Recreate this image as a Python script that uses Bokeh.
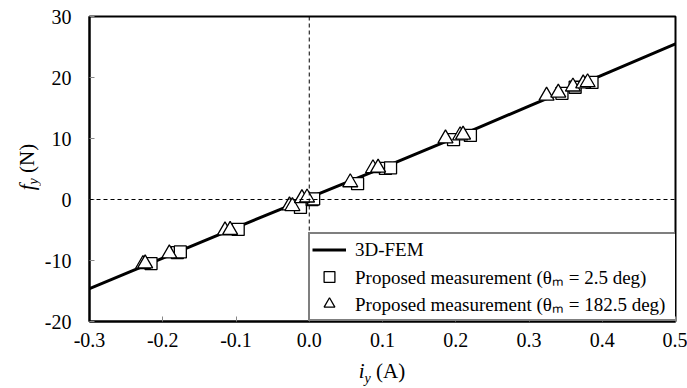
from bokeh.plotting import figure
from bokeh.models import (Span, Legend, LegendItem, FixedTicker,
                          PrintfTickFormatter, Range1d, Div)
from bokeh.layouts import row, column
from bokeh.embed import file_html
from bokeh.resources import INLINE

# ---------------- data ----------------
x_fem = [-0.3, -0.2, -0.1, 0.0, 0.1, 0.2, 0.3, 0.4, 0.5]
y_fem = [-14.6, -9.6, -4.6, 0.3, 5.2, 10.2, 15.3, 20.4, 25.5]

x_sq = [-0.216, -0.180, -0.176, -0.097, -0.012, 0.004, 0.006, 0.066, 0.104,
        0.111, 0.197, 0.220, 0.345, 0.363, 0.386]
y_sq = [-10.5, -8.7, -8.6, -4.9, -1.3, 0.0, 0.1, 2.6, 5.1,
        5.2, 9.8, 10.5, 17.4, 18.4, 19.2]

x_tr = [-0.227, -0.224, -0.191, -0.115, -0.108, -0.027, -0.023, -0.010,
        -0.003, 0.056, 0.087, 0.094, 0.186, 0.206, 0.210, 0.324, 0.340,
        0.360, 0.374, 0.380]
y_tr = [-10.6, -10.5, -8.85, -5.1, -5.0, -1.0, -1.1, 0.2,
        0.3, 2.8, 5.1, 5.2, 10.0, 10.5, 10.6, 17.0, 17.5,
        18.5, 19.0, 19.2]

x_ticks = [-0.3, -0.2, -0.1, 0.0, 0.1, 0.2, 0.3, 0.4, 0.5]
y_ticks = [-20, -10, 0, 10, 20, 30]

label_fem = "3D-FEM"
label_sq = "Proposed measurement (θₘ = 2.5 deg)"
label_tr = "Proposed measurement (θₘ = 182.5 deg)"

FONT = "Liberation Serif"

# ---------------- layout ----------------
X0, X1, Y0, Y1 = -0.3, 0.5, -20, 30
W, H = 687, 386
FL, FT, FW, FH = 89, 16, 586, 305   # frame left/top/width/height in page px
YW = 40                             # width of the y-title column
PH = 359                            # figure height (x-title below it)

p = figure(width=W - YW, height=PH, frame_width=FW, frame_height=FH,
           x_range=Range1d(X0, X1), y_range=Range1d(Y0, Y1),
           output_backend="svg", toolbar_location=None,
           min_border_left=FL - YW, min_border_top=FT,
           min_border_right=W - FL - FW, min_border_bottom=PH - FT - FH)
p.grid.visible = False
p.outline_line_color = "black"
p.outline_line_width = 2
p.background_fill_color = "white"
p.border_fill_color = "white"

for ax in (p.xaxis[0], p.yaxis[0]):
    ax.axis_line_width = 2
    ax.axis_line_color = "black"
    ax.major_tick_in = 5
    ax.major_tick_out = 0
    ax.major_tick_line_color = "#888888"
    ax.minor_tick_line_color = None
    ax.major_label_text_font = FONT
    ax.major_label_text_font_size = "20px"
    ax.major_label_text_color = "black"

p.xaxis.ticker = FixedTicker(ticks=x_ticks)
p.xaxis.formatter = PrintfTickFormatter(format="%.1f")
p.xaxis.major_label_standoff = 11
p.yaxis.ticker = FixedTicker(ticks=y_ticks)
p.yaxis.formatter = PrintfTickFormatter(format="%d")
p.yaxis.major_label_standoff = 18

# dashed zero lines
p.add_layout(Span(location=0, dimension="height", line_color="black",
                  line_width=1, line_dash="4 3"))
p.add_layout(Span(location=0, dimension="width", line_color="black",
                  line_width=1, line_dash="4 3"))

r_fem = p.line(x_fem, y_fem, line_color="black", line_width=3)
r_sq = p.scatter(x_sq, y_sq, marker="square", size=12, fill_color="white",
                 line_color="black", line_width=1.3)
r_tr = p.scatter(x_tr, y_tr, marker="triangle", size=15, fill_color="white",
                 line_color="black", line_width=1.3)

legend = Legend(items=[LegendItem(label=label_fem, renderers=[r_fem]),
                       LegendItem(label=label_sq, renderers=[r_sq]),
                       LegendItem(label=label_tr, renderers=[r_tr])],
                location=(308 - FL, 0), padding=2, spacing=0,
                glyph_width=34, glyph_height=27, label_height=27,
                label_width=320, label_standoff=9, margin=0,
                border_line_color="black", border_line_width=2,
                background_fill_color="white", background_fill_alpha=1.0,
                label_text_font=FONT, label_text_font_size="19px",
                label_text_color="black")
p.add_layout(legend)

# ---------------- axis titles (HTML, with italics and subscripts) ----------------
base = "font-family:'Liberation Serif',serif;font-size:21px;color:black;white-space:nowrap;"


def sub(shift):
    return (f'<sub style="font-size:14px;vertical-align:-{shift}px;line-height:0">'
            f'<i>y</i></sub>')


xdiv = Div(text=(f'<div style="{base}width:{FW}px;text-align:center;line-height:24px;">'
                 f'<i>i</i>{sub(5)} (A)</div>'),
           width=FW, height=H - PH, margin=(0, 0, 0, FL - YW))

ydiv = Div(text=(f'<div style="position:relative;width:{YW}px;height:{PH}px;">'
                 f'<span style="{base}position:absolute;left:27px;top:167px;'
                 f'line-height:24px;transform:translate(-50%,-50%) rotate(-90deg);">'
                 f'<i>f</i>{sub(4)} (N)</span></div>'),
           width=YW, height=PH, margin=(0, 0, 0, 0),
           styles={"overflow": "visible"})

layout = row(ydiv, column(p, xdiv, spacing=0), spacing=0)

open("out.html", "w").write(file_html(layout, INLINE))
